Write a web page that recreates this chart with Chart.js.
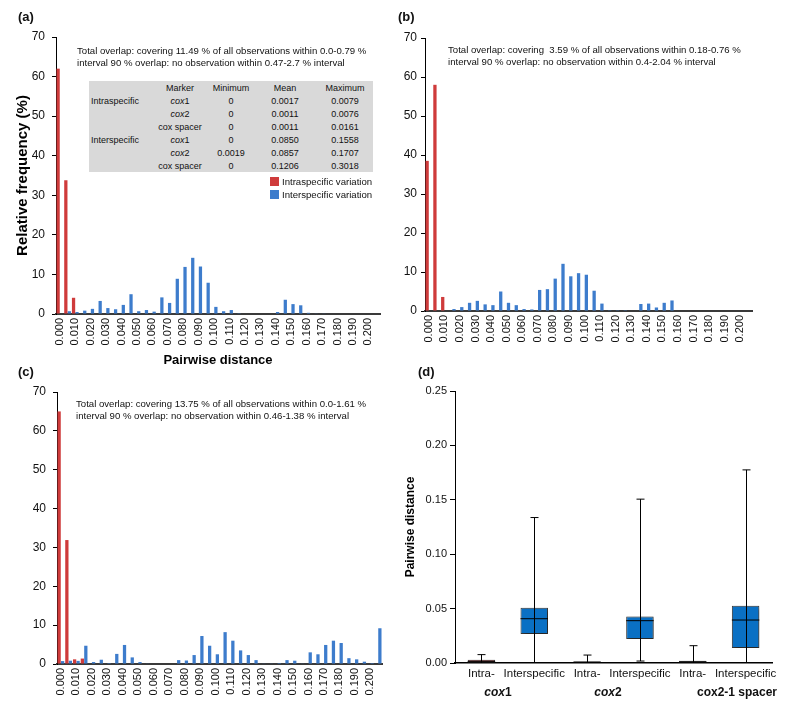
<!DOCTYPE html>
<html>
<head>
<meta charset="utf-8">
<script src="https://cdn.jsdelivr.net/npm/chart.js@4.4.0/dist/chart.umd.min.js"></script>
<style>
body { margin: 0; background: #fff; font-family: "Liberation Sans", Arial, sans-serif; color: #111; }
#wrap { position: relative; width: 800px; height: 710px; overflow: hidden; }
canvas { position: absolute; }
.lab { position: absolute; font-weight: bold; font-size: 13px; line-height: 16px; }
.note { position: absolute; font-size: 9.6px; line-height: 11.7px; white-space: pre; }
table.stats { position: absolute; left: 89px; top: 81px; width: 284px; background: #d9d9d9;
  border-collapse: collapse; font-size: 9px; table-layout: fixed; }
table.stats td { height: 13px; padding: 0; text-align: center; white-space: nowrap; }
table.stats td.rl { text-align: left; padding-left: 2px; }
.leg { position: absolute; left: 270px; font-size: 9.6px; line-height: 12px; }
.leg span { display: inline-block; width: 9px; height: 9px; vertical-align: -1px; margin-right: 3px; }
.grp { position: absolute; font-weight: bold; font-size: 12px; transform: translate(-50%, -50%); white-space: nowrap; }
</style>
</head>
<body>
<div id="wrap">
  <canvas id="chartA" width="400" height="370" style="left:0;top:0"></canvas>
  <canvas id="chartB" width="400" height="370" style="left:400px;top:0"></canvas>
  <canvas id="chartC" width="400" height="355" style="left:0;top:355px"></canvas>
  <canvas id="chartD" width="400" height="355" style="left:400px;top:355px"></canvas>

  <div class="lab" style="left:18px;top:9px">(a)</div>
  <div class="lab" style="left:398px;top:9px">(b)</div>
  <div class="lab" style="left:18px;top:364px">(c)</div>
  <div class="lab" style="left:418px;top:364px">(d)</div>

  <div class="note" style="left:77px;top:45px">Total overlap: covering 11.49 % of all observations within 0.0-0.79 %
interval 90 % overlap: no observation within 0.47-2.7 % interval</div>
  <div class="note" style="left:448px;top:44px">Total overlap: covering  3.59 % of all observations within 0.18-0.76 %
interval 90 % overlap: no observation within 0.4-2.04 % interval</div>
  <div class="note" style="left:76px;top:398px">Total overlap: covering 13.75 % of all observations within 0.0-1.61 %
interval 90 % overlap: no observation within 0.46-1.38 % interval</div>

  <table class="stats">
    <colgroup><col style="width:62px"><col style="width:58px"><col style="width:44px"><col style="width:64px"><col style="width:56px"></colgroup>
    <tr><td></td><td>Marker</td><td>Minimum</td><td>Mean</td><td>Maximum</td></tr>
    <tr><td class="rl">Intraspecific</td><td><i>cox</i>1</td><td>0</td><td>0.0017</td><td>0.0079</td></tr>
    <tr><td></td><td><i>cox</i>2</td><td>0</td><td>0.0011</td><td>0.0076</td></tr>
    <tr><td></td><td>cox spacer</td><td>0</td><td>0.0011</td><td>0.0161</td></tr>
    <tr><td class="rl">Interspecific</td><td><i>cox</i>1</td><td>0</td><td>0.0850</td><td>0.1558</td></tr>
    <tr><td></td><td><i>cox</i>2</td><td>0.0019</td><td>0.0857</td><td>0.1707</td></tr>
    <tr><td></td><td>cox spacer</td><td>0</td><td>0.1206</td><td>0.3018</td></tr>
  </table>

  <div class="leg" style="top:176px"><span style="background:#cf3b3b"></span>Intraspecific variation</div>
  <div class="leg" style="top:189px"><span style="background:#3d7ccc"></span>Interspecific variation</div>

  <div class="grp" style="left:498px;top:692px"><i>cox</i>1</div>
  <div class="grp" style="left:608px;top:692px"><i>cox</i>2</div>
  <div class="grp" style="left:737px;top:692px">cox2-1 spacer</div>
</div>

<script>
// pairwise distance classes (every other one is labelled on the axis)
const distances = ['0.000','0.005','0.010','0.015','0.020','0.025','0.030','0.035','0.040','0.045',
  '0.050','0.055','0.060','0.065','0.070','0.075','0.080','0.085','0.090','0.095',
  '0.100','0.105','0.110','0.115','0.120','0.125','0.130','0.135','0.140','0.145',
  '0.150','0.155','0.160','0.165','0.170','0.175','0.180','0.185','0.190','0.195',
  '0.200','0.205'];

// (a) relative frequency (%)
const intraA = [62, 33.8, 4.1, 0, 0, 0, 0, 0, 0, 0, 0, 0, 0, 0, 0, 0, 0, 0, 0, 0, 0,
  0, 0, 0, 0, 0, 0, 0, 0, 0, 0, 0, 0, 0, 0, 0, 0, 0, 0, 0, 0, 0];
const interA = [0, 0.7, 0.5, 0.85, 1.3, 3.3, 1.5, 1.2, 2.3, 5.0, 0.7, 1.0, 0.6, 4.2, 2.8, 8.9, 11.9, 14.2, 12.0, 7.9, 1.8,
  0.7, 1.0, 0.2, 0, 0, 0, 0, 0.5, 3.6, 2.5, 2.2, 0.3, 0.1, 0.1, 0, 0, 0, 0, 0, 0, 0];

// (b)
const intraB = [38.5, 58, 3.6, 0, 0, 0, 0, 0, 0, 0, 0, 0, 0, 0, 0, 0, 0, 0, 0, 0, 0,
  0, 0, 0, 0, 0, 0, 0, 0, 0, 0, 0, 0, 0, 0, 0, 0, 0, 0, 0, 0, 0];
const interB = [0, 0, 0, 0.5, 1.0, 2.1, 2.6, 1.7, 1.5, 5.0, 2.1, 1.5, 0.5, 0.4, 5.4, 5.6, 8.3, 12.1, 8.9, 9.7, 9.3,
  5.2, 1.9, 0.05, 0.05, 0.05, 0, 1.8, 1.9, 0.9, 2.1, 2.7, 0, 0, 0, 0, 0, 0, 0, 0, 0, 0];

// (c)
const intraC = [65, 31.9, 1.2, 1.4, 0, 0, 0, 0, 0, 0, 0, 0, 0, 0, 0, 0, 0, 0, 0, 0, 0,
  0, 0, 0, 0, 0, 0, 0, 0, 0, 0, 0, 0, 0, 0, 0, 0, 0, 0, 0, 0, 0];
const interC = [0.75, 0.85, 0.8, 4.7, 0.5, 1.1, 0.25, 2.6, 4.9, 1.7, 0.5, 0.1, 0, 0, 0, 1.0, 0.9, 2.3, 7.2, 4.7, 2.5,
  8.2, 6.0, 3.5, 2.3, 1.0, 0.1, 0.1, 0.25, 1.0, 0.85, 0.1, 3.0, 2.5, 4.9, 6.0, 5.4, 1.5, 1.2, 0.6, 0.25, 9.2];

const freqTicks = [0, 10, 20, 30, 40, 50, 60, 70];

// (d) box plots of pairwise distance
const boxLabels = ['Intra-', 'Interspecific', 'Intra-', 'Interspecific', 'Intra-', 'Interspecific'];
const boxMin    = [0, 0, 0, 0.0018, 0, 0];
const boxQ1     = [0, 0.0266, 0, 0.0220, 0, 0.0138];
const boxMedian = [0.0012, 0.0407, 0.0006, 0.0389, 0.0008, 0.0395];
const boxQ3     = [0.0031, 0.0508, 0.0016, 0.0428, 0.0020, 0.0526];
const boxMax    = [0.0077, 0.1337, 0.0073, 0.1506, 0.0159, 0.1775];
const boxColors = ['#7f0505', '#0a70c4', '#c40f0f', '#0a70c4', '#c40f0f', '#0a70c4'];

const RED = '#cf3b3b';
const BLUE = '#3d7ccc';

Chart.defaults.font.family = '"Liberation Sans", Arial, sans-serif';
Chart.defaults.color = '#111';

function histogram(id, intra, inter, g) {
  return new Chart(document.getElementById(id), {
    type: 'bar',
    data: {
      labels: distances,
      datasets: [
        { label: 'Intraspecific variation', data: intra, backgroundColor: RED,
          categoryPercentage: 0.9, barPercentage: 0.94 },
        { label: 'Interspecific variation', data: inter, backgroundColor: BLUE,
          categoryPercentage: 0.9, barPercentage: 0.94 }
      ]
    },
    options: {
      responsive: false,
      animation: false,
      layout: { padding: { top: g.top, right: g.right, left: 0, bottom: 0 } },
      plugins: { legend: { display: false }, tooltip: { enabled: false } },
      scales: {
        x: {
          grid: { display: false, drawTicks: false },
          border: { color: '#3a3a3a', width: 2 },
          ticks: {
            autoSkip: false, maxRotation: 90, minRotation: 90, padding: 4,
            font: { size: 11 },
            callback: (v, i) => (i % 2 ? '' : distances[i])
          },
          title: {
            display: !!g.xTitle, text: g.xTitle || '', color: '#000',
            font: { size: 13, weight: 'bold' }, padding: { top: 0, bottom: 2 }
          },
          afterFit: s => { s.height = g.xh; }
        },
        y: {
          min: 0, max: 70,
          grid: { drawOnChartArea: false, drawTicks: true, tickLength: 4, color: '#000' },
          border: { color: '#000', width: 1 },
          afterBuildTicks: s => { s.ticks = freqTicks.map(v => ({ value: v })); },
          ticks: { padding: g.tickPad, font: { size: 12 } },
          title: {
            display: !!g.yTitle, text: g.yTitle || '', color: '#000',
            font: { size: 15, weight: 'bold' }, padding: { top: 14, bottom: 0 }
          },
          afterFit: s => { s.width = g.yw; }
        }
      }
    }
  });
}

histogram('chartA', intraA, interA, { top: 37, right: 20, xh: 56, yw: 56, tickPad: 7,
  xTitle: 'Pairwise distance', yTitle: 'Relative frequency (%)' });
histogram('chartB', intraB, interB, { top: 38, right: 48, xh: 59, yw: 25, tickPad: 4 });
histogram('chartC', intraC, interC, { top: 37, right: 18, xh: 46, yw: 57, tickPad: 7 });

// whiskers, caps and medians for the box plot, placed through the chart scales
const boxExtras = {
  id: 'boxExtras',
  beforeDatasetsDraw(chart) {
    const ctx = chart.ctx;
    ctx.save();
    ctx.shadowColor = 'rgba(0,0,0,0.45)';
    ctx.shadowBlur = 4;
    ctx.shadowOffsetX = 2;
    ctx.shadowOffsetY = 2;
  },
  afterDatasetsDraw(chart) {
    const ctx = chart.ctx;
    ctx.restore();
    const y = chart.scales.y;
    const bars = chart.getDatasetMeta(0).data;
    ctx.save();
    ctx.strokeStyle = '#000';
    ctx.lineWidth = 1;
    bars.forEach((bar, i) => {
      const x = Math.round(bar.x) + 0.5;
      const half = bar.width / 2;
      const yMax = y.getPixelForValue(boxMax[i]);
      const yMin = y.getPixelForValue(boxMin[i]);
      const yMed = y.getPixelForValue(boxMedian[i]);
      ctx.beginPath();
      ctx.moveTo(x, yMin);
      ctx.lineTo(x, yMax);
      ctx.moveTo(x - 4, yMax);
      ctx.lineTo(x + 4, yMax);
      if (boxMin[i] > 0) {
        ctx.moveTo(x - 4, yMin);
        ctx.lineTo(x + 4, yMin);
      }
      ctx.moveTo(bar.x - half, yMed);
      ctx.lineTo(bar.x + half, yMed);
      ctx.stroke();
    });
    ctx.restore();
  }
};

new Chart(document.getElementById('chartD'), {
  type: 'bar',
  data: {
    labels: boxLabels,
    datasets: [{
      data: boxLabels.map((_, i) => [boxQ1[i], boxQ3[i]]),
      backgroundColor: boxColors,
      borderColor: '#3a3a3a',
      borderWidth: 1,
      borderSkipped: false,
      barPercentage: 0.52,
      categoryPercentage: 1
    }]
  },
  plugins: [boxExtras],
  options: {
    responsive: false,
    animation: false,
    layout: { padding: { top: 36, right: 28, left: 0, bottom: 0 } },
    plugins: { legend: { display: false }, tooltip: { enabled: false } },
    scales: {
      x: {
        grid: { display: false, drawTicks: false },
        border: { color: '#000', width: 1.5 },
        ticks: { padding: 4, autoSkip: false, maxRotation: 0, minRotation: 0, font: { size: 11.5 } },
        afterFit: s => { s.height = 47; }
      },
      y: {
        min: 0, max: 0.25,
        grid: { drawOnChartArea: false, drawTicks: true, tickLength: 5, color: '#000' },
        border: { color: '#000', width: 1 },
        ticks: { stepSize: 0.05, padding: 3, font: { size: 11 }, callback: v => v.toFixed(2) },
        title: {
          display: true, text: 'Pairwise distance', color: '#000',
          font: { size: 12, weight: 'bold' }, padding: { top: 3, bottom: 0 }
        },
        afterFit: s => { s.width = 55; }
      }
    }
  }
});
</script>
</body>
</html>
